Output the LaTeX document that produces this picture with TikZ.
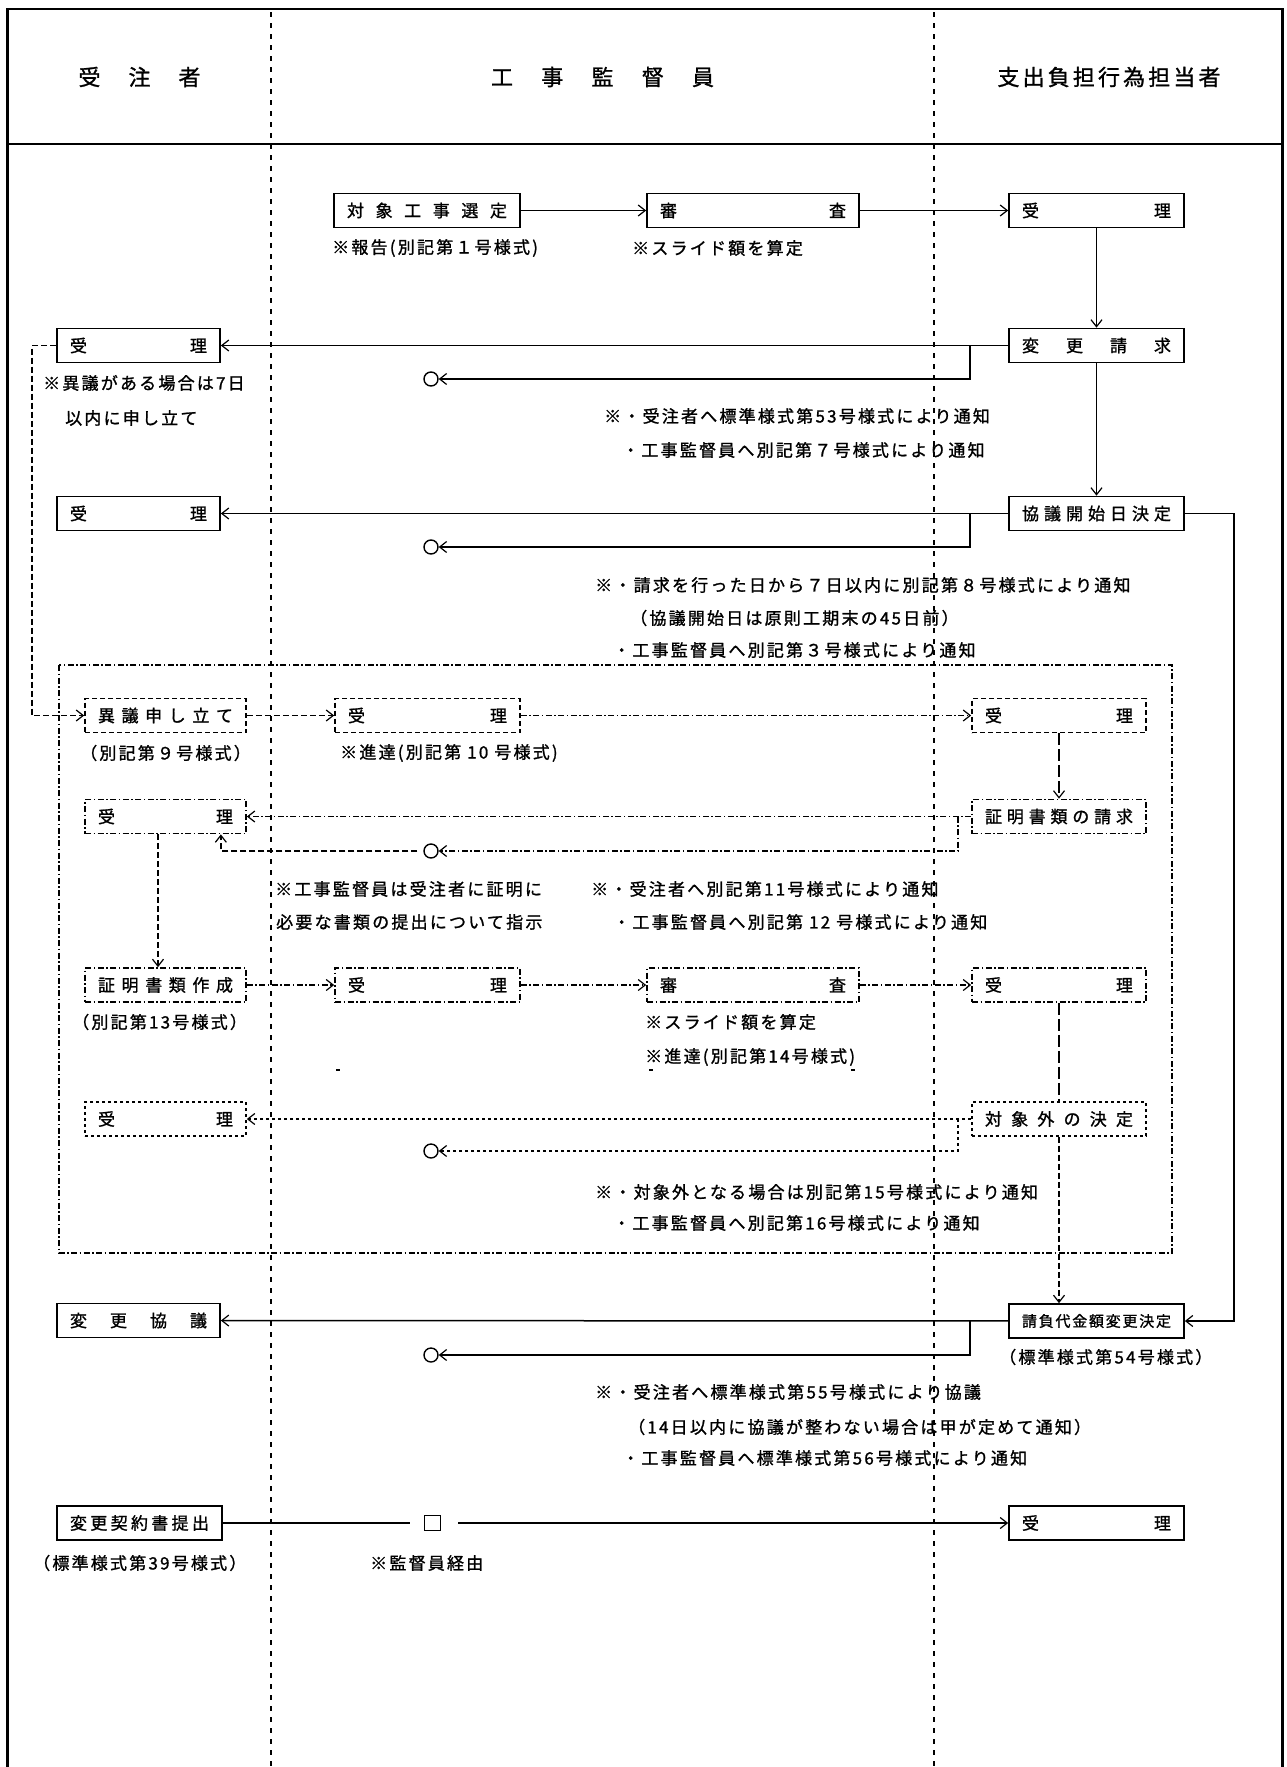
\documentclass[tikz,border=0pt]{standalone}
\usepackage{fontspec}
\setmainfont{Noto Sans CJK JP}[LetterSpace=13,FakeBold=1.2]
\usepackage{tikz}
\usetikzlibrary{positioning,arrows.meta,calc}

\begin{document}
\begin{tikzpicture}[x=1pt,y=-1pt,
	box/.style={rectangle,draw,line width=1.7pt,minimum height=34pt,inner xsep=13pt,inner ysep=0pt,align=center,font=\fontsize{17}{20}\selectfont},
	dbox/.style={box,dash pattern=on 5pt off 3pt},
	ddbox/.style={box,dash pattern=on 6pt off 2.5pt on 1.5pt off 2.5pt},
	sbox/.style={box,dash pattern=on 3pt off 3pt},
	hdr/.style={inner sep=0pt,align=center,font=\fontsize{22}{26}\selectfont},
	note/.style={anchor=west,inner sep=0pt,font=\fontsize{17}{20}\selectfont},
	circ/.style={circle,draw,line width=1.4pt,minimum size=14pt,inner sep=0pt},
	conn/.style={line width=1.5pt},
	arr/.style={conn,-{Straight Barb[length=7pt,width=11pt,line width=1.2pt]}},
	lane/.style={line width=2pt,dash pattern=on 5pt off 6pt},
	dl/.style={dash pattern=on 6pt off 3pt},
	ddl/.style={dash pattern=on 6pt off 2.5pt on 1.5pt off 2.5pt},
	ll/.style={dash pattern=on 12pt off 4pt},
	sl/.style={dash pattern=on 3pt off 3pt}]
	\useasboundingbox (0,0) rectangle (1286,1767);
	% frame and lanes
	\draw[line width=2.5pt] (7.5,1767) -- (7.5,9) -- (1282.5,9) -- (1282.5,1767);
	\draw[line width=2.5pt] (7.5,144) -- (1282.5,144);
	\draw[lane] (271,12) -- (271,1767);
	\draw[lane] (934,12) -- (934,1767);
	\node [hdr, text width=122pt, name = hA] at (139.5,77) {受\hfill 注\hfill 者};
	\node [hdr, text width=223pt, name = hB] at (602.5,77) {工\hfill 事\hfill 監\hfill 督\hfill 員};
	\node [hdr, text width=223pt, name = hC] at (1109,77) {支\hfill 出\hfill 負\hfill 担\hfill 行\hfill 為\hfill 担\hfill 当\hfill 者};
	% solid boxes
	\node [box, text width=160pt, name = sel] at (427,210.5) {対\hfill 象\hfill 工\hfill 事\hfill 選\hfill 定};
	\node [box, text width=186pt, name = rev1] at (753,210.5) {審\hfill 査};
	\node [box, text width=149pt, name = acc1] at (1096.5,210.5) {受\hfill 理};
	\node [box, text width=149pt, name = req] at (1096.5,345.5) {変\hfill 更\hfill 請\hfill 求};
	\node [box, text width=137pt, name = accL1] at (138.5,345.5) {受\hfill 理};
	\node [box, text width=149pt, name = start] at (1096.5,513.5) {協\hfill 議\hfill 開\hfill 始\hfill 日\hfill 決\hfill 定};
	\node [box, text width=137pt, name = accL2] at (138.5,513.5) {受\hfill 理};
	\node [box, text width=149pt, font=\fontsize{15}{18}\selectfont, name = final] at (1096.5,1321) {請\hfill 負\hfill 代\hfill 金\hfill 額\hfill 変\hfill 更\hfill 決\hfill 定};
	\node [box, text width=137pt, name = cons] at (138.5,1320.5) {変\hfill 更\hfill 協\hfill 議};
	\node [box, text width=139pt, name = contract] at (139.5,1523) {変\hfill 更\hfill 契\hfill 約\hfill 書\hfill 提\hfill 出};
	\node [box, text width=149pt, name = accR3] at (1096.5,1523) {受\hfill 理};
	% boxes in the dash-dot region
	\node [dbox, text width=135pt, name = obj] at (165.5,715.5) {異\hfill 議\hfill 申\hfill し\hfill 立\hfill て};
	\node [dbox, text width=159pt, name = accM1] at (427.5,715.5) {受\hfill 理};
	\node [dbox, text width=148pt, name = accR1] at (1059,715.5) {受\hfill 理};
	\node [ddbox, text width=148pt, name = proofreq] at (1059,816.5) {証\hfill 明\hfill 書\hfill 類\hfill の\hfill 請\hfill 求};
	\node [ddbox, text width=135pt, name = accL3] at (165.5,816.5) {受\hfill 理};
	\node [ddbox, text width=135pt, name = proofmk] at (165.5,985) {証\hfill 明\hfill 書\hfill 類\hfill 作\hfill 成};
	\node [ddbox, text width=159pt, name = accM2] at (427.5,985) {受\hfill 理};
	\node [ddbox, text width=186pt, name = rev2] at (753,985) {審\hfill 査};
	\node [ddbox, text width=148pt, name = accR2] at (1059,985) {受\hfill 理};
	\node [sbox, text width=148pt, name = excl] at (1059,1119) {対\hfill 象\hfill 外\hfill の\hfill 決\hfill 定};
	\node [sbox, text width=135pt, name = accL4] at (165.5,1119) {受\hfill 理};
	\draw[ddl, line width=1.5pt] (59,665) rectangle (1172,1253);
	% circles and square
	\node [circ, name = c1] at (431,379) {};
	\node [circ, name = c2] at (431,547) {};
	\node [circ, name = c3] at (431,851) {};
	\node [circ, name = c4] at (431,1151) {};
	\node [circ, name = c5] at (431,1355) {};
	\node [draw, line width=1.5pt, minimum width=16pt, minimum height=15pt, inner sep=0pt, name = sq] at (432.5,1523) {};
	% branch points
	\coordinate (brq) at ($(req.west)+(-38,0)$);
	\coordinate (bst) at ($(start.west)+(-38,0)$);
	\coordinate (bpr) at ($(proofreq.west)+(-13,0)$);
	\coordinate (bex) at ($(excl.west)+(-13,0)$);
	\coordinate (bfn) at ($(final.west)+(-38,0)$);
	\coordinate (l3in) at ($(accL3.south east)+(-26,0)$);
	% solid flow
	\draw[arr] (sel) -- (rev1);
	\draw[arr] (rev1) -- (acc1);
	\draw[arr] (acc1) -- (req);
	\draw[arr] (req) -- (accL1);
	\draw[arr] (brq) |- (c1);
	\draw[arr] (req) -- (start);
	\draw[arr] (start) -- (accL2);
	\draw[arr] (bst) |- (c2);
	\draw[arr] (start.east) -- ++(49,0) |- (final.east);
	\draw[arr] (final) -- (cons);
	\draw[arr] (bfn) |- (c5);
	\draw[conn, shorten >=14pt] (contract) -- (sq);
	\draw[arr, shorten <=17pt] (sq) -- (accR3);
	% dashed flow
	\draw[arr, dl] (accL1.west) -- ++(-24,0) |- (obj.west);
	\draw[arr, dl] (obj) -- (accM1);
	\draw[arr, ddl] (accM1) -- (accR1);
	\draw[arr, ll] (accR1) -- (proofreq);
	\draw[arr, ddl] (proofreq) -- (accL3);
	\draw[arr, ddl] (bpr) |- (c3);
	\draw[arr, dl, shorten <=6pt] (c3.west) -| (l3in);
	\draw[arr, dl] ([xshift=-7.5pt]accL3.south) -- ([xshift=-7.5pt]proofmk.north);
	\draw[arr, ddl] (proofmk) -- (accM2);
	\draw[arr, ddl] (accM2) -- (rev2);
	\draw[arr, ddl] (rev2) -- (accR2);
	\draw[conn, ll] (accR2) -- (excl);
	\draw[arr, sl] (excl) -- (accL4);
	\draw[arr, sl] (bex) |- (c4);
	\draw[arr, dl] (excl) -- (excl |- final.north);
	\foreach \x in {338,651,853}
		\draw[line width=1.5pt] (\x-2,1070) -- (\x+2,1070);
	% notes
	\node [note, name = n1] at (332,248) {※報告(別記第１号様式)};
	\node [note, name = n2] at (632,248) {※スライド額を算定};
	\node [note, name = n3] at (43,383) {※異議がある場合は7日};
	\node [note, name = n4] at (65,418) {以内に申し立て};
	\node [note, name = n5] at (604,416) {※・受注者へ標準様式第53号様式により通知};
	\node [note, name = n6] at (622,450) {・工事監督員へ別記第７号様式により通知};
	\node [note, name = n7] at (595,585) {※・請求を行った日から７日以内に別記第８号様式により通知};
	\node [note, name = n8] at (630,618) {（協議開始日は原則工期末の45日前）};
	\node [note, name = n9] at (613,650) {・工事監督員へ別記第３号様式により通知};
	\node [note, name = n10] at (80,753) {（別記第９号様式）};
	\node [note, name = n11] at (340,753) {※進達(別記第 10 号様式)};
	\node [note, name = n12] at (275,889) {※工事監督員は受注者に証明に};
	\node [note, name = n13] at (276,922) {必要な書類の提出について指示};
	\node [note, name = n14] at (591,889) {※・受注者へ別記第11号様式により通知};
	\node [note, name = n15] at (613,922) {・工事監督員へ別記第 12 号様式により通知};
	\node [note, name = n16] at (72,1022) {（別記第13号様式）};
	\node [note, name = n17] at (645,1022) {※スライド額を算定};
	\node [note, name = n18] at (645,1057) {※進達(別記第14号様式)};
	\node [note, name = n19] at (595,1192) {※・対象外となる場合は別記第15号様式により通知};
	\node [note, name = n20] at (613,1223) {・工事監督員へ別記第16号様式により通知};
	\node [note, name = n21] at (999,1357) {（標準様式第54号様式）};
	\node [note, name = n22] at (595,1392) {※・受注者へ標準様式第55号様式により協議};
	\node [note, name = n23] at (628,1427) {（14日以内に協議が整わない場合は甲が定めて通知）};
	\node [note, name = n24] at (622,1458) {・工事監督員へ標準様式第56号様式により通知};
	\node [note, name = n25] at (33,1563) {（標準様式第39号様式）};
	\node [note, name = n26] at (370,1563) {※監督員経由};
\end{tikzpicture}
\end{document}
